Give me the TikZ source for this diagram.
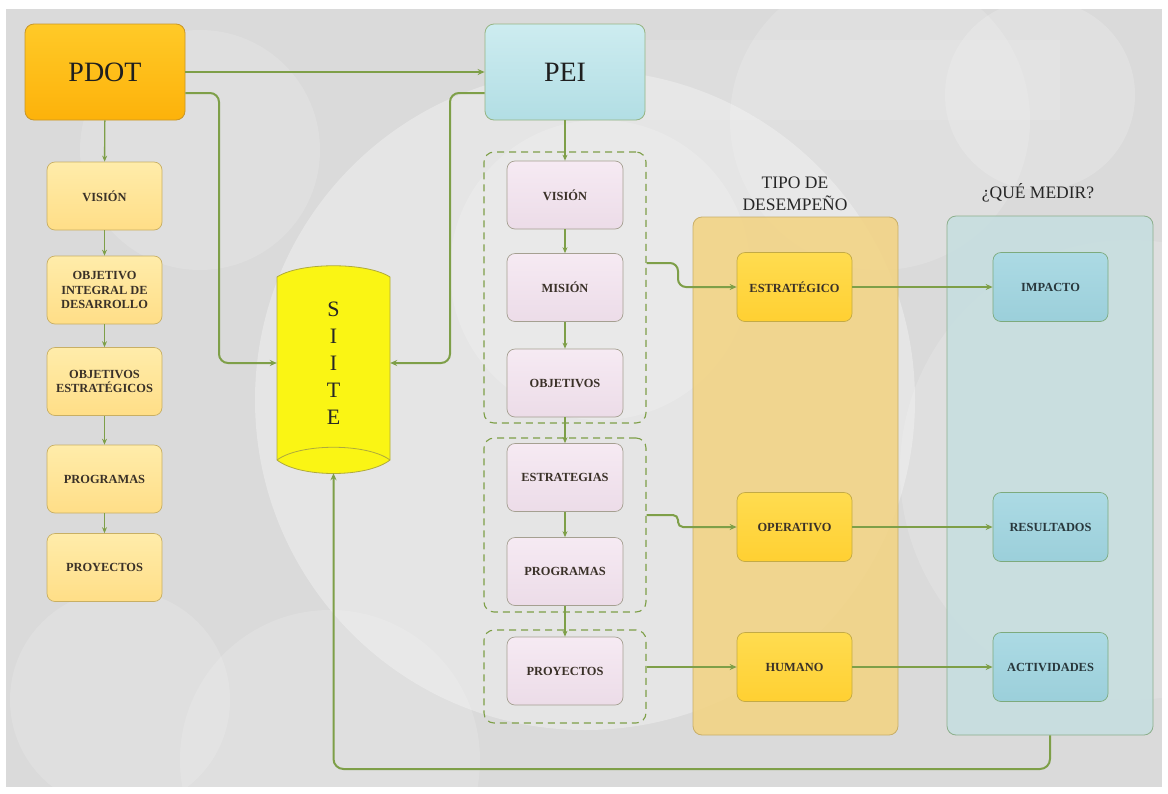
\documentclass[tikz,border=0pt]{standalone}
\usepackage{fontspec}
\setmainfont{Liberation Serif}
\usetikzlibrary{arrows.meta}
\definecolor{conn}{HTML}{7E9F48}
\definecolor{bggrey}{HTML}{DADADA}
\definecolor{txtdark}{HTML}{3A3128}
\definecolor{pdotdraw}{RGB}{200,150,40}
\definecolor{pdottop}{RGB}{255,202,40}
\definecolor{pdotbot}{RGB}{253,178,10}
\definecolor{peidraw}{RGB}{150,180,130}
\definecolor{peitop}{RGB}{205,236,240}
\definecolor{peibot}{RGB}{178,222,228}
\definecolor{ldraw}{RGB}{200,175,100}
\definecolor{ltop}{RGB}{255,236,170}
\definecolor{lbot}{RGB}{255,222,135}
\definecolor{pdraw}{RGB}{165,160,145}
\definecolor{ptop}{RGB}{246,234,243}
\definecolor{pbot}{RGB}{236,220,232}
\definecolor{odraw}{RGB}{195,170,70}
\definecolor{otop}{RGB}{255,220,80}
\definecolor{obot}{RGB}{255,208,50}
\definecolor{bdraw}{RGB}{125,170,125}
\definecolor{btop}{RGB}{172,218,228}
\definecolor{bbot}{RGB}{155,207,218}
\definecolor{btext}{RGB}{40,55,60}
\definecolor{tipodraw}{RGB}{200,175,105}
\definecolor{tipofill}{RGB}{243,211,128}
\definecolor{medirdraw}{RGB}{140,175,140}
\definecolor{medirfill}{RGB}{198,222,224}
\definecolor{cylfill}{RGB}{250,245,20}
\definecolor{cyldraw}{RGB}{175,170,60}
\tikzset{
  conn/.style={draw=conn, line width=2pt, -{Stealth[length=7pt,width=6pt]}, rounded corners=9pt},
  thin conn/.style={draw=conn, line width=1.4pt, -{Stealth[length=6pt,width=5pt]}},
  lbl/.style={font=\bfseries\fontsize{12.4}{14.5}\selectfont, align=center, text=txtdark},
  bignode/.style={rounded corners=9pt, line width=0.8pt, minimum width=160pt, minimum height=96pt,
    font=\fontsize{28}{30}\selectfont, text=black!88},
  pdotbox/.style={bignode, draw=pdotdraw, top color=pdottop, bottom color=pdotbot},
  peibox/.style={bignode, draw=peidraw, top color=peitop, bottom color=peibot},
  lbox/.style={lbl, rounded corners=8pt, line width=0.7pt, minimum width=115pt, minimum height=68pt,
    draw=ldraw, top color=ltop, bottom color=lbot},
  pbox/.style={lbl, rounded corners=8pt, line width=0.7pt, minimum width=116pt, minimum height=68pt,
    draw=pdraw, top color=ptop, bottom color=pbot},
  obox/.style={lbl, rounded corners=8pt, line width=0.7pt, minimum width=115pt, minimum height=69pt,
    draw=odraw, top color=otop, bottom color=obot},
  bbox/.style={lbl, rounded corners=8pt, line width=0.7pt, minimum width=115pt, minimum height=69pt, text=btext,
    draw=bdraw, top color=btop, bottom color=bbot},
  groupbox/.style={draw=conn, dash pattern=on 7pt off 5pt, line width=1.1pt, rounded corners=10pt, minimum width=162pt},
  colbox/.style={rounded corners=9pt, line width=0.8pt},
  coltitle/.style={font=\fontsize{17.5}{22}\selectfont, align=center, text=black!85},
}
\begin{document}
\begin{tikzpicture}[x=1pt,y=-1pt]
\useasboundingbox (0,0) rectangle (1168,793);
\fill[white] (0,0) rectangle (1168,793);
% background
\begin{scope}
\clip (6,9) rectangle (1162,787);
\fill[bggrey] (6,9) rectangle (1162,787);
\fill[white, opacity=0.30] (585,400) circle (330);
\fill[white, opacity=0.18] (1040,95) circle (95);
\fill[white, opacity=0.15] (880,120) circle (150);
\fill[white, opacity=0.18] (600,270) circle (150);
\fill[white, opacity=0.15] (1130,470) circle (230);
\fill[white, opacity=0.15] (330,760) circle (150);
\fill[white, opacity=0.15] (120,700) circle (110);
\fill[white, opacity=0.15] (200,150) circle (120);
\fill[white, opacity=0.10] (560,40) rectangle (1060,120);
\end{scope}

% column containers
\node[colbox, draw=tipodraw, fill=tipofill, fill opacity=0.85,
  minimum width=205pt, minimum height=518pt] (tipo) at (795.5,476) {};
\node[colbox, draw=medirdraw, fill=medirfill, fill opacity=0.85,
  minimum width=206pt, minimum height=519pt] (medir) at (1050,475.5) {};
\node[coltitle] (tipot) at (795,194) {TIPO DE\\DESEMPEÑO};
\node[coltitle] (medirt) at (1038,193) {¿QUÉ MEDIR?};

% dashed groups
\node[groupbox, minimum height=271pt] (g1) at (565,287.5) {};
\node[groupbox, minimum height=174pt] (g2) at (565,525) {};
\node[groupbox, minimum height=93pt] (g3) at (565,676.5) {};

% main nodes
\node[pdotbox] (pdot) at (105,72) {PDOT};
\node[peibox] (pei) at (565,72) {PEI};

% left column
\node[lbox] (lvis) at (104.5,196) {VISIÓN};
\node[lbox] (lobj) at (104.5,290) {OBJETIVO\\INTEGRAL DE\\DESARROLLO};
\node[lbox] (lest) at (104.5,381.5) {OBJETIVOS\\ESTRATÉGICOS};
\node[lbox] (lprog) at (104.5,479) {PROGRAMAS};
\node[lbox] (lproy) at (104.5,567.5) {PROYECTOS};

% PEI column
\node[pbox] (pvis) at (565,195) {VISIÓN};
\node[pbox] (pmis) at (565,287.5) {MISIÓN};
\node[pbox] (pobj) at (565,383) {OBJETIVOS};
\node[pbox] (pest) at (565,477.5) {ESTRATEGIAS};
\node[pbox] (pprog) at (565,571.5) {PROGRAMAS};
\node[pbox] (pproy) at (565,671) {PROYECTOS};

% desempeno
\node[obox] (estr) at (794.5,287) {ESTRATÉGICO};
\node[obox] (oper) at (794.5,527) {OPERATIVO};
\node[obox] (hum) at (794.5,667) {HUMANO};

% medir
\node[bbox] (imp) at (1050.5,287) {IMPACTO};
\node[bbox] (res) at (1050.5,527) {RESULTADOS};
\node[bbox] (act) at (1050.5,667) {ACTIVIDADES};

% SIITE cylinder
\path[fill=cylfill, draw=cyldraw, line width=0.8pt]
  (277,277) .. controls (300,262) and (367,262) .. (390,277) -- (390,460)
  .. controls (367,478) and (300,478) .. (277,460) -- cycle;
\draw[cyldraw, line width=0.8pt]
  (277,460) .. controls (300,443) and (367,443) .. (390,460);
\node[minimum width=113pt, minimum height=208pt, align=center, font=\fontsize{22}{27}\selectfont, text=black!85] (siite) at (333.5,363) {S\\I\\I\\T\\E};

% connectors
\draw[conn] (pdot.east) -- (pei.west);
\draw[conn] ([yshift=-21pt]pdot.east) -- (219,93) -- (219,363) -- (siite.west);
\draw[conn] ([yshift=-21pt]pei.west) -- (450,93) -- (450,363) -- (siite.east);
\coordinate (fb) at (333.5,769);
\draw[conn, rounded corners=10pt] (medir.south) |- (fb) -- ([yshift=-6pt]siite.south);

\draw[thin conn] (pdot) -- (lvis);
\draw[thin conn] (lvis) -- (lobj);
\draw[thin conn] (lobj) -- (lest);
\draw[thin conn] (lest) -- (lprog);
\draw[thin conn] (lprog) -- (lproy);

\draw[thin conn] (pei) -- (pvis);
\draw[thin conn] (pvis) -- (pmis);
\draw[thin conn] (pmis) -- (pobj);
\draw[thin conn] (pobj) -- (pest);
\draw[thin conn] (pprog) -- (pproy);
\draw[thin conn] (pest) -- (pprog);

\draw[conn, rounded corners=8pt] ([yshift=24.5pt]g1.east) -- (678,263) -- (678,287) -- (estr.west);
\draw[conn, rounded corners=5pt] ([yshift=10pt]g2.east) -- (678,515) -- (678,527) -- (oper.west);
\draw[conn] (g3.east |- hum.west) -- (hum.west);

\draw[conn] (estr) -- (imp);
\draw[conn] (oper) -- (res);
\draw[conn] (hum) -- (act);
\end{tikzpicture}
\end{document}
